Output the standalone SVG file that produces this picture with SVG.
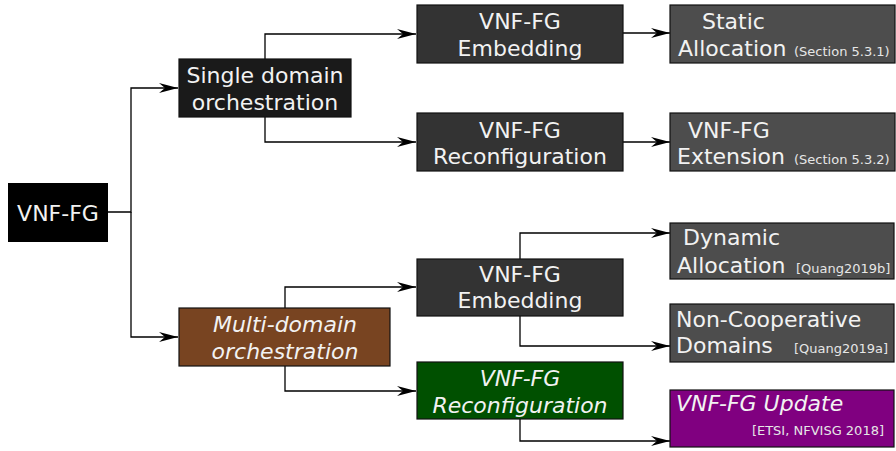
<svg xmlns="http://www.w3.org/2000/svg" width="896" height="451" viewBox="0 0 896 451">
<style>
.t{font-family:"DejaVu Sans",sans-serif;font-size:22px;fill:#f2f2f2}
.c{text-anchor:middle}
.i{font-style:italic}
.s{font-size:13px;fill:#e6e6e6}
.b{stroke:#111;stroke-width:1.2}
.w{fill:none;stroke:#000;stroke-width:1.3;marker-end:url(#ah)}
</style>
<defs>
<marker id="ah" markerUnits="userSpaceOnUse" viewBox="-20 -6 20 12" refX="0" refY="0" markerWidth="20" markerHeight="12" orient="auto">
<path d="M0,0 L-19,-5 L-13,0 L-19,5 Z" fill="#000"/>
</marker>
</defs>
<g id="connectors">
<path class="w" d="M108,212 H131 V88 H178"/>
<path class="w" d="M131,212 V337 H178"/>
<path class="w" d="M265,59 V34 H416"/>
<path class="w" d="M265,117 V142 H416"/>
<path class="w" d="M623,33 H670"/>
<path class="w" d="M623,142 H670"/>
<path class="w" d="M285,308 V287 H416"/>
<path class="w" d="M285,366 V391 H416"/>
<path class="w" d="M520,259 V233 H670"/>
<path class="w" d="M520,316 V346 H670"/>
<path class="w" d="M520,419 V441 H670"/>
</g>
<g id="root">
<rect x="8" y="183" width="100" height="59" fill="#000"/>
<text class="t c" x="58" y="221">VNF-FG</text>
</g>
<g id="single">
<rect class="b" x="179" y="59" width="172" height="58" fill="#1a1a1a"/>
<text class="t c" x="265" y="83">Single domain</text>
<text class="t c" x="265" y="110">orchestration</text>
</g>
<g id="emb1">
<rect class="b" x="417" y="5" width="206" height="58" fill="#333"/>
<text class="t c" x="520" y="29">VNF-FG</text>
<text class="t c" x="520" y="56">Embedding</text>
</g>
<g id="reconf1">
<rect class="b" x="417" y="113" width="206" height="58" fill="#333"/>
<text class="t c" x="520" y="138">VNF-FG</text>
<text class="t c" x="520" y="164">Reconfiguration</text>
</g>
<g id="static">
<rect class="b" x="670" y="5" width="225" height="58" fill="#4d4d4d"/>
<text class="t" x="702" y="29">Static</text>
<text class="t" x="678" y="56">Allocation</text>
<text class="t s" x="794" y="56">(Section 5.3.1)</text>
</g>
<g id="extension">
<rect class="b" x="670" y="113" width="225" height="58" fill="#4d4d4d"/>
<text class="t" x="688" y="138">VNF-FG</text>
<text class="t" x="677" y="164">Extension</text>
<text class="t s" x="794" y="164">(Section 5.3.2)</text>
</g>
<g id="multi">
<rect class="b" x="179" y="308" width="211" height="58" fill="#784421"/>
<text class="t c i" x="285" y="332">Multi-domain</text>
<text class="t c i" x="285" y="359">orchestration</text>
</g>
<g id="emb2">
<rect class="b" x="417" y="259" width="206" height="57" fill="#333"/>
<text class="t c" x="520" y="282">VNF-FG</text>
<text class="t c" x="520" y="308">Embedding</text>
</g>
<g id="reconf2">
<rect class="b" x="417" y="362" width="206" height="57" fill="#005000"/>
<text class="t c i" x="520" y="386">VNF-FG</text>
<text class="t c i" x="520" y="413">Reconfiguration</text>
</g>
<g id="dynamic">
<rect class="b" x="670" y="223" width="224" height="56" fill="#4d4d4d"/>
<text class="t" x="683" y="245">Dynamic</text>
<text class="t" x="677" y="273">Allocation</text>
<text class="t s" x="796" y="273">[Quang2019b]</text>
</g>
<g id="noncoop">
<rect class="b" x="670" y="304" width="224" height="58" fill="#4d4d4d"/>
<text class="t" x="676" y="327">Non-Cooperative</text>
<text class="t" x="676" y="353">Domains</text>
<text class="t s" x="794" y="353">[Quang2019a]</text>
</g>
<g id="update">
<rect class="b" x="670" y="390" width="224" height="57" fill="#800080"/>
<text class="t i" x="676" y="411">VNF-FG Update</text>
<text class="t s" x="884" y="435" text-anchor="end">[ETSI, NFVISG 2018]</text>
</g>
</svg>
